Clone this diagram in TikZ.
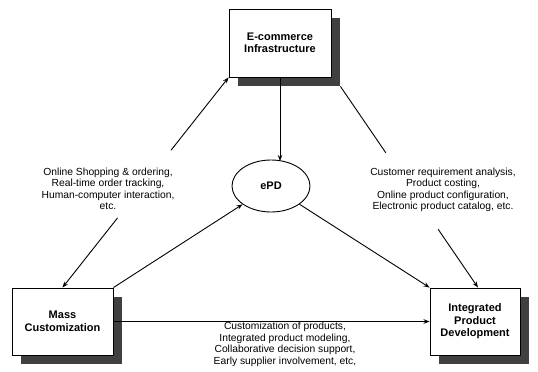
\documentclass[tikz,border=0pt]{standalone}
\usepackage{fontspec}
\setmainfont{Liberation Sans}
\usetikzlibrary{shapes.geometric,arrows.meta,calc}
\begin{document}
\begin{tikzpicture}[x=1pt,y=-1pt,
  box/.style={draw=black,line width=0.9pt,fill=white,rectangle,inner sep=0pt,
    font=\fontsize{11}{12.5}\selectfont\bfseries,align=center},
  shade/.style={fill=black!75},
  conn/.style={line width=0.9pt},
  arr/.style={conn,-{Stealth[length=6pt,width=4.5pt]}},
  note/.style={font=\fontsize{10.3}{11.5}\selectfont,align=center,inner sep=0pt}]
\useasboundingbox (0,0) rectangle (538,372);
% shadows
\fill[shade] (238,18) rectangle (340,86);
\fill[shade] (21,297) rectangle (122,364);
\fill[shade] (439,297) rectangle (529,364);
% boxes
\node[box,minimum width=102pt,minimum height=68pt] (top) at (280,43) {E-commerce\\Infrastructure};
\node[box,minimum width=101pt,minimum height=67pt] (mass) at (62.5,321.5) {Mass\\Customization};
\node[box,minimum width=90pt,minimum height=67pt] (integ) at (475,321.5) {Integrated\\Product\\Development};
\node[draw=black,line width=0.9pt,ellipse,minimum width=78pt,minimum height=52pt,inner sep=0pt,
  font=\fontsize{11}{13}\selectfont\bfseries] (epd) at (271,186) {ePD};
% left connector (double headed, broken by label)
\coordinate (lg1) at ($(top.south west)!0.346!(mass.north)$);
\coordinate (lg2) at ($(top.south west)!0.668!(mass.north)$);
\draw[arr] (lg1) -- (top.south west);
\draw[arr] (lg2) -- (mass.north);
% right connector (broken by label)
\coordinate (rs) at ($(top.south east)+(9,9)$);
\coordinate (re) at ($(integ.north)+(3,0)$);
\coordinate (rg1) at ($(rs)!0.33!(re)$);
\coordinate (rg2) at ($(rs)!0.71!(re)$);
\draw[conn] (rs) -- (rg1);
\draw[arr] (rg2) -- (re);
% other connectors
\coordinate (vt) at ($(epd.north -| top.south)+(0,1.5)$);
\draw[arr] (top.south) -- (vt);
\draw[arr] (mass.north east) -- (epd);
\draw[arr] (epd) -- (integ.north west);
\draw[arr] (mass.east) -- (integ.west);
% labels
\node[note] (l1) at (108,189) {Online Shopping \& ordering,\\Real-time order tracking,\\Human-computer interaction,\\etc.};
\node[note] (l2) at (443,190) {Customer requirement analysis,\\Product costing,\\Online product configuration,\\Electronic product catalog, etc.};
\node[note] (l3) at (285,344.5) {Customization of products,\\Integrated product modeling,\\Collaborative decision support,\\Early supplier involvement, etc,};
\end{tikzpicture}
\end{document}
